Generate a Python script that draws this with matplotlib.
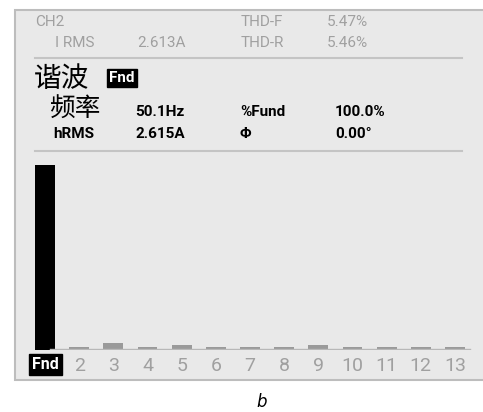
import numpy as np
import matplotlib.pyplot as plt
from matplotlib.patches import Rectangle

plt.rcParams['font.family'] = ['Roboto', 'Noto Sans CJK SC', 'DejaVu Sans']

# harmonic order labels and amplitude (% of fundamental)
orden = ["Fnd", "2", "3", "4", "5", "6", "7", "8", "9", "10", "11", "12", "13"]
amplitud = [100.0, 1.5, 3.6, 1.5, 2.6, 1.5, 1.5, 1.5, 2.6, 1.5, 1.5, 1.5, 1.5]

cabecera_izq = [("CH2", 35, 22), ("I RMS", 55, 43), ("2.613A", 137, 43)]
cabecera_der = [("THD-F", 241, 22), ("5.47%", 327, 22), ("THD-R", 241, 43), ("5.46%", 327, 43)]
medidas = [("50.1Hz", 135, 112), ("%Fund", 240, 112), ("100.0%", 335, 112),
           ("hRMS", 53, 134), ("2.615A", 135, 134), ("Φ", 240, 134), ("0.00°", 335, 134)]

W, H = 483, 412
fig = plt.figure(figsize=(W / 100, H / 100), dpi=100)
fig.patch.set_facecolor("white")

# fondo de pantalla en coordenadas de pixel
fondo = fig.add_axes([0, 0, 1, 1])
fondo.set_xlim(0, W)
fondo.set_ylim(H, 0)
fondo.axis("off")
fondo.add_patch(Rectangle((15, 10), 480, 370, facecolor="#e9e9e9", edgecolor="#bdbdbd", lw=1.5))
fondo.plot([35, 462], [58, 58], color="#c4c4c4", lw=1.5)
fondo.plot([35, 462], [151, 151], color="#c4c4c4", lw=1.5)

gris = "#a0a0a0"
for t, x, y in cabecera_izq + cabecera_der:
    fondo.text(x, y, t, color=gris, fontsize=11, va="center", ha="left")

fondo.text(34, 79, "谐波", fontsize=20, weight="medium", va="center", ha="left",
           family=["Noto Sans CJK SC", "DejaVu Sans"])
fondo.text(109, 78, "Fnd", fontsize=11, color="white", weight="bold", va="center", ha="left",
           bbox=dict(boxstyle="square,pad=0.15", fc="black", ec="black"))
fondo.text(49, 109, "频率", fontsize=18.5, weight="medium", va="center", ha="left",
           family=["Noto Sans CJK SC", "DejaVu Sans"])
for t, x, y in medidas:
    fondo.text(x, y, t, fontsize=11, weight="bold", va="center", ha="left")

fondo.text(262, 402, "b", fontsize=12, style="italic", family="DejaVu Sans", ha="center", va="center")

# grafico de barras de armonicos
izq, der, arriba, abajo = 28, 472, 160, 350
ax = fig.add_axes([izq / W, 1 - abajo / H, (der - izq) / W, (abajo - arriba) / H])
ax.patch.set_alpha(0)
pos = np.arange(len(orden))
colores = ["black"] + ["#9a9a9a"] * (len(orden) - 1)
ax.bar(pos, amplitud, width=0.58, color=colores)
ax.axhline(0.3, xmin=0.05, xmax=0.995, color="#b8b8b8", lw=1)
ax.set_xlim(-0.5, len(orden) - 0.5)
ax.set_ylim(0, 100 * (abajo - arriba) / 185)
for s in ax.spines.values():
    s.set_visible(False)
ax.set_yticks([])
ax.set_xticks(pos)
ax.set_xticklabels(orden, fontsize=14, color=gris)
ax.tick_params(axis="x", length=0, pad=5)
lbl = ax.get_xticklabels()[0]
lbl.set_color("white")
lbl.set_fontweight("bold")
lbl.set_fontsize(11.5)
lbl.set_bbox(dict(boxstyle="square,pad=0.2", fc="black", ec="black"))

fig.savefig("out.png", dpi=100)
